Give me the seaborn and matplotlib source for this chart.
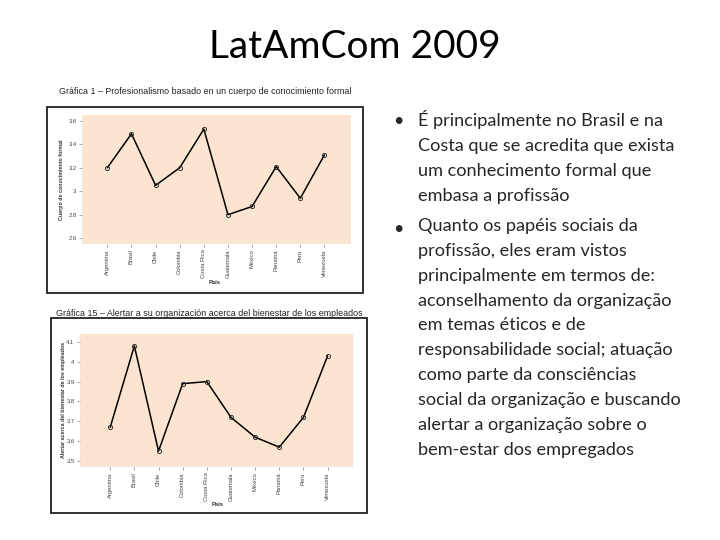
import seaborn as sns
import matplotlib.pyplot as plt
import pandas as pd
from matplotlib.patches import Rectangle

paises = ["Argentina", "Brasil", "Chile", "Colombia", "Costa Rica",
          "Guatemala", "México", "Panamá", "Perú", "Venezuela"]
conocimiento = [3.20, 3.49, 3.05, 3.20, 3.53, 2.80, 2.87, 3.21, 2.94, 3.31]
bienestar = [3.67, 4.08, 3.55, 3.89, 3.90, 3.72, 3.62, 3.57, 3.72, 4.03]
ticks1 = [2.6, 2.8, 3.0, 3.2, 3.4, 3.6]
ticks2 = [3.5, 3.6, 3.7, 3.8, 3.9, 4.0, 4.1]

bullet1 = ("É principalmente no Brasil e na\nCosta que se acredita que exista\n"
           "um conhecimento formal que\nembasa a profissão")
bullet2 = ("Quanto os papéis sociais da\nprofissão, eles eram vistos\n"
           "principalmente em termos de:\naconselhamento da organização\n"
           "em temas éticos e de\nresponsabilidade social; atuação\n"
           "como parte da consciências\nsocial da organização e buscando\n"
           "alertar a organização sobre o\nbem-estar dos empregados")

sns.set_style("white")
chart_font = ["Liberation Sans Narrow", "Liberation Sans", "DejaVu Sans"]
slide_font = ["Lato", "DejaVu Sans"]

W, H = 720, 540
fig = plt.figure(figsize=(7.2, 5.4), dpi=100)


def px_box(x0, y0, x1, y1):
    return [x0 / W, 1 - y1 / H, (x1 - x0) / W, (y1 - y0) / H]


def draw_chart(rect, frame, values, ticks, ylim, xlim, title, title_xy, ylabel, ylab_x):
    # outer frame
    fx0, fy0, fx1, fy1 = frame
    fig.patches.append(Rectangle((fx0 / W, 1 - fy1 / H), (fx1 - fx0) / W, (fy1 - fy0) / H,
                                 transform=fig.transFigure, fill=False,
                                 edgecolor="#222222", linewidth=1.3))
    fig.text(title_xy[0] / W, 1 - title_xy[1] / H, title, ha="center", va="center",
             fontsize=6.4, family=chart_font, color="#222222")
    ax = fig.add_axes(px_box(*rect))
    ax.set_facecolor("#fbe5d1")
    df = pd.DataFrame({"pais": range(len(paises)), "valor": values})
    sns.lineplot(data=df, x="pais", y="valor", ax=ax, color="black", linewidth=1.1,
                 marker="o", markersize=3.0, markerfacecolor="none",
                 markeredgecolor="#333333", markeredgewidth=0.7)
    for s in ax.spines.values():
        s.set_visible(False)
    ax.set_xlim(*xlim)
    ax.set_ylim(*ylim)
    ax.set_xticks(range(len(paises)))
    ax.set_xticklabels(paises, rotation=90, fontsize=4.2, family=chart_font, color="#444444")
    ax.set_yticks(ticks)
    ax.set_yticklabels([f"{t:g}" for t in ticks], fontsize=4.2, family=chart_font, color="#444444")
    ax.tick_params(axis="both", length=2.5, width=0.5, color="#888888", pad=1.5, bottom=True, left=True)
    ax.set_xlabel("")
    ax.set_ylabel("")
    fig.text(ylab_x / W, 1 - (rect[1] + rect[3]) / 2 / H, ylabel, rotation=90,
             ha="center", va="center", fontsize=3.8, family=chart_font,
             fontweight="bold", color="#333333")
    return ax


draw_chart((82, 115, 351, 244), (47, 107, 363, 293), conocimiento, ticks1,
           (2.55, 3.65), (-1.05, 10.1),
           "Gráfica 1 – Profesionalismo basado en un cuerpo de conocimiento formal",
           (205, 91), "Cuerpo de conocimiento formal", 62)
fig.text(215 / W, 1 - 283 / H, "País", ha="center", va="center", fontsize=4.2,
         family=chart_font, fontweight="bold", color="#333333")

draw_chart((80, 334, 353, 467), (51, 318, 367, 513), bienestar, ticks2,
           (3.47, 4.14), (-1.25, 10.05),
           "Gráfica 15 – Alertar a su organización acerca del bienestar de los empleados",
           (209, 313), "Alertar acerca del bienestar de los empleados", 64)
fig.text(218 / W, 1 - 505 / H, "País", ha="center", va="center", fontsize=4.2,
         family=chart_font, fontweight="bold", color="#333333")

# slide title and bullet text
fig.text(355 / W, 1 - 47 / H, "LatAmCom 2009", ha="center", va="center",
         fontsize=28, family=slide_font, color="black")
fig.text(398 / W, 1 - 121 / H, "•", ha="center", va="center", fontsize=13, family=slide_font)
fig.text(418 / W, 1 - 110 / H, bullet1, ha="left", va="top", fontsize=13.1,
         family=slide_font, linespacing=1.68)
fig.text(398 / W, 1 - 229 / H, "•", ha="center", va="center", fontsize=13, family=slide_font)
fig.text(418 / W, 1 - 218 / H, bullet2, ha="left", va="top", fontsize=13.1,
         family=slide_font, linespacing=1.68)

fig.savefig("out.png", dpi=100, facecolor="white")
